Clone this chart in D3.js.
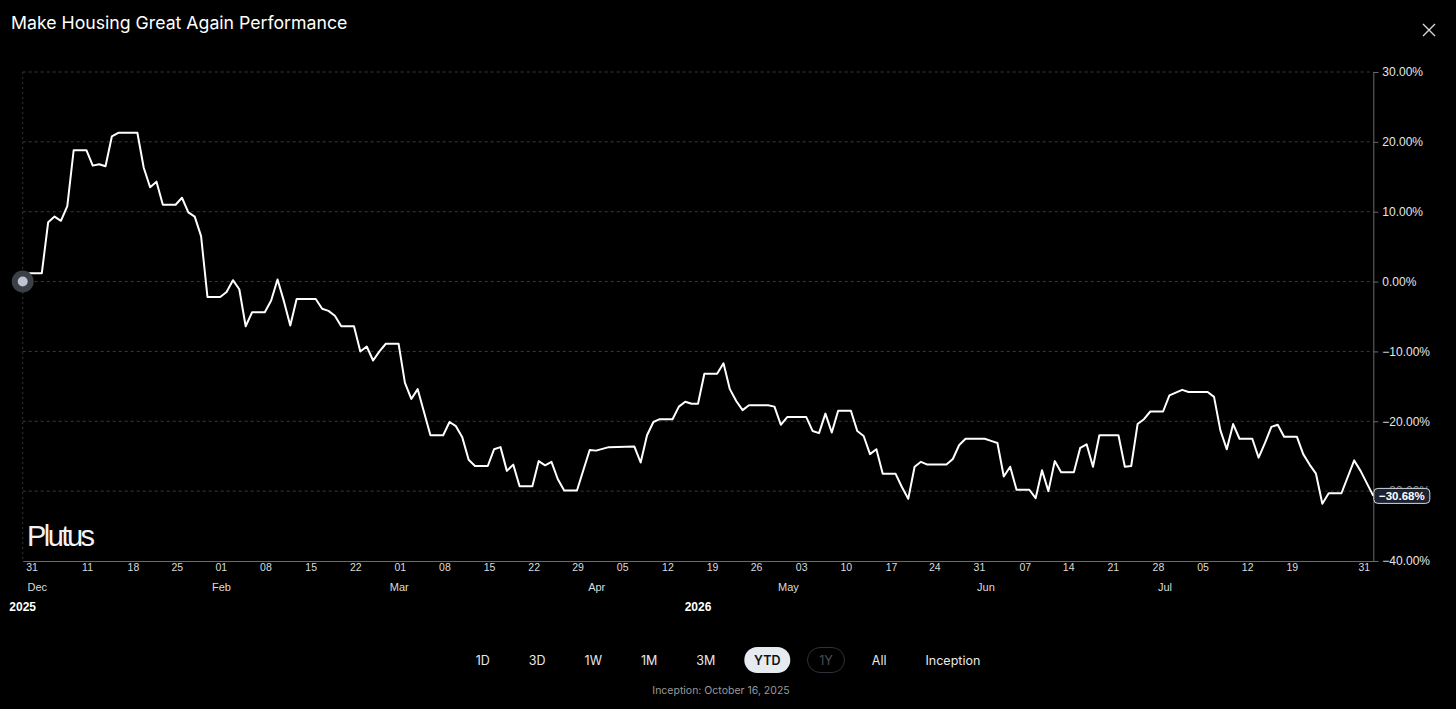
<!DOCTYPE html>
<meta charset="utf-8">

<!-- Load d3.js -->
<script src="https://d3js.org/d3.v7.min.js"></script>

<style>
  body { margin: 0; background: #000; overflow: hidden; }
  svg text { font-family: "Liberation Sans", Arial, sans-serif; }
  .ui { font-family: Inter, "Noto Sans", sans-serif !important; }
</style>

<div id="my_dataviz"></div>

<script>

// day offset from 31 Dec 2025 and cumulative performance (%) at each turning point of the line
var dayIdx = [0, 1, 3, 4, 5, 6, 7, 8, 10, 11, 12, 13, 14, 15, 18, 19, 20, 21, 22, 24,
              25, 26, 27, 28, 29, 31, 32, 33, 34, 35, 36, 38, 39, 40, 41, 42, 43, 46, 47, 48,
              49, 50, 52, 53, 54, 55, 56, 57, 59, 60, 61, 62, 64, 66, 67, 68, 69, 70, 71, 73,
              74, 75, 76, 77, 78, 80, 81, 82, 83, 84, 85, 87, 89, 90, 92, 96, 97, 98, 99, 100,
              102, 103, 104, 105, 106, 107, 109, 110, 111, 112, 113, 114, 117, 118, 119, 120, 123, 124, 125, 126,
              127, 128, 130, 131, 132, 133, 134, 135, 137, 138, 139, 140, 141, 142, 145, 146, 147, 148, 151, 152,
              153, 154, 155, 156, 158, 159, 160, 161, 162, 163, 165, 166, 167, 168, 169, 172, 173, 174, 175, 176,
              177, 179, 180, 181, 182, 183, 186, 187, 188, 189, 190, 191, 193, 194, 195, 196, 197, 198, 200, 201,
              202, 203, 204, 205, 207, 209, 210, 212];
var perf = [0, 1.2, 1.2, 8.5, 9.3, 8.7, 10.8, 18.8, 18.8, 16.6, 16.8, 16.5, 20.8, 21.3, 21.3, 16.3, 13.5, 14.3, 11.0, 11.0,
            12.0, 9.9, 9.3, 6.5, -2.2, -2.2, -1.5, 0.2, -1.1, -6.4, -4.4, -4.4, -2.7, 0.3, -2.8, -6.3, -2.5, -2.5, -3.9, -4.2,
            -4.9, -6.4, -6.4, -10.0, -9.3, -11.3, -10.0, -8.9, -8.9, -14.5, -16.8, -15.4, -22.0, -22.0, -20.1, -20.7, -22.3, -25.5, -26.4, -26.4,
            -24.0, -23.7, -27.1, -26.2, -29.3, -29.3, -25.7, -26.3, -25.8, -28.3, -29.9, -29.9, -24.1, -24.2, -23.7, -23.6, -25.9, -22.0, -20.1, -19.7,
            -19.7, -17.9, -17.2, -17.5, -17.5, -13.2, -13.2, -11.7, -15.4, -17.1, -18.4, -17.7, -17.7, -17.9, -20.5, -19.4, -19.4, -21.4, -21.7, -18.9,
            -21.6, -18.5, -18.5, -21.4, -22.1, -24.7, -24.0, -27.5, -27.5, -29.4, -31.1, -26.5, -25.8, -26.2, -26.2, -25.4, -23.4, -22.5, -22.5, -22.8,
            -23.1, -27.9, -26.5, -29.8, -29.8, -31.0, -27.0, -30.0, -25.7, -27.3, -27.3, -23.8, -23.3, -26.5, -22.0, -22.0, -26.5, -26.4, -20.4, -19.7,
            -18.6, -18.6, -16.3, -15.9, -15.5, -15.8, -15.8, -16.5, -21.3, -24.0, -20.4, -22.5, -22.5, -25.2, -23.1, -20.8, -20.5, -22.2, -22.2, -24.7,
            -26.2, -27.5, -31.8, -30.3, -30.3, -25.6, -27.1, -30.68];

// x axis labels (as printed on the chart)
var dayTicks  = [1.4, 10.1, 17.3, 24.2, 31.1, 38.1, 45.2, 52.2, 59.2, 66.2, 73.2, 80.2, 87.1, 94.1, 101.2,
                 108.2, 115.1, 122.2, 129.2, 136.3, 143.1, 150.1, 157.3, 164.1, 171.1, 178.2, 185.2, 192.2, 199.2, 210.5];
var dayLabels = ["31", "11", "18", "25", "01", "08", "15", "22", "01", "08", "15", "22", "29", "05", "12",
                 "19", "26", "03", "10", "17", "24", "31", "07", "14", "21", "28", "05", "12", "19", "31"];
var monthTicks  = [2.3, 31.2, 59.1, 90.1, 120.2, 151.2, 179.3];
var monthLabels = ["Dec", "Feb", "Mar", "Apr", "May", "Jun", "Jul"];
var yearTicks  = [0, 106];
var yearLabels = ["2025", "2026"];
var pctTicks = [30, 20, 10, 0, -10, -20, -30, -40];

var ranges = ["1D", "3D", "1W", "1M", "3M", "YTD", "1Y", "All", "Inception"];
var activeRange = "YTD";
var disabledRange = "1Y";

var W = 1456, H = 709;
var margin = {top: 72, right: 82.7, bottom: 148, left: 22.7};

var svg = d3.select("#my_dataviz")
  .append("svg")
    .attr("width", W)
    .attr("height", H)
    .style("background", "#000");

var x = d3.scaleLinear()
  .domain([0, 212])
  .range([margin.left, W - margin.right]);

var y = d3.scaleLinear()
  .domain([-40, 30])
  .range([H - margin.bottom, margin.top]);

// title + close
svg.append("text")
  .attr("class", "ui")
  .attr("x", 11).attr("y", 29)
  .style("font-size", "17.7px")
  .attr("fill", "#fff")
  .text("Make Housing Great Again Performance");

var cx = 1429, cy = 30;
svg.append("path")
  .attr("d", "M" + (cx - 6) + "," + (cy - 6) + "L" + (cx + 6) + "," + (cy + 6) +
             "M" + (cx + 6) + "," + (cy - 6) + "L" + (cx - 6) + "," + (cy + 6))
  .attr("stroke", "#d8d8d8")
  .attr("stroke-width", 1.4);

// gridlines
svg.append("g")
  .selectAll("line")
  .data(pctTicks.filter(function(d) { return d > -40; }))
  .join("line")
    .attr("x1", x(0)).attr("x2", x(212))
    .attr("y1", function(d) { return y(d); })
    .attr("y2", function(d) { return y(d); })
    .attr("stroke", "#3a3a3a")
    .attr("stroke-dasharray", "3,3");

// left dotted edge
svg.append("line")
  .attr("x1", x(0)).attr("x2", x(0))
  .attr("y1", y(30)).attr("y2", y(-40))
  .attr("stroke", "#333")
  .attr("stroke-dasharray", "2,3");

// right Y axis
var yAxis = svg.append("g")
  .attr("transform", "translate(" + x(212) + ",0)")
  .call(d3.axisRight(y)
    .tickValues(pctTicks)
    .tickSize(5)
    .tickPadding(4)
    .tickFormat(function(d) { return d3.format(".2f")(d) + "%"; }));
yAxis.select(".domain").attr("stroke", "#6a6a6a");
yAxis.selectAll(".tick line").attr("stroke", "#6a6a6a");
yAxis.selectAll(".tick text")
  .attr("fill", "#e6e6e6")
  .style("font-size", "12px");
// the -30% label sits under the last-value badge, as in the original
yAxis.selectAll(".tick text")
  .filter(function(d) { return d === -30; })
  .attr("fill", "#8a8a8a");

// bottom X axis
var xAxis = svg.append("g")
  .attr("transform", "translate(0," + y(-40) + ")")
  .call(d3.axisBottom(x)
    .tickValues(dayTicks)
    .tickSize(0)
    .tickPadding(3)
    .tickFormat(function(d, i) { return dayLabels[i]; }));
xAxis.select(".domain").attr("stroke", "#6a6a6a");
xAxis.selectAll(".tick text")
  .attr("fill", "#dcdcdc")
  .style("font-size", "10.5px");

svg.append("g")
  .selectAll("text")
  .data(monthTicks)
  .join("text")
    .attr("x", function(d) { return x(d); })
    .attr("y", 591)
    .attr("text-anchor", "middle")
    .attr("fill", "#dcdcdc")
    .style("font-size", "11px")
    .text(function(d, i) { return monthLabels[i]; });

svg.append("g")
  .selectAll("text")
  .data(yearTicks)
  .join("text")
    .attr("x", function(d) { return x(d); })
    .attr("y", 611)
    .attr("text-anchor", "middle")
    .attr("fill", "#fff")
    .style("font-size", "12px")
    .style("font-weight", "bold")
    .text(function(d, i) { return yearLabels[i]; });

// watermark
svg.append("text")
  .attr("x", 27).attr("y", 546)
  .attr("fill", "#f2f2f2")
  .style("font-size", "29px")
  .style("letter-spacing", "-2.5px")
  .text("Plutus");

// performance line
var pts = d3.zip(dayIdx, perf);
svg.append("path")
  .datum(pts)
  .attr("fill", "none")
  .attr("stroke", "#fff")
  .attr("stroke-width", 2)
  .attr("stroke-linejoin", "round")
  .attr("d", d3.line()
    .x(function(d) { return x(d[0]); })
    .y(function(d) { return y(d[1]); }));

// start marker
svg.append("circle")
  .attr("cx", x(dayIdx[0])).attr("cy", y(perf[0]))
  .attr("r", 11)
  .attr("fill", "#3b3f46");
svg.append("circle")
  .attr("cx", x(dayIdx[0])).attr("cy", y(perf[0]))
  .attr("r", 5)
  .attr("fill", "#bcc4d2");

// last value badge
var last = perf[perf.length - 1];
var badge = svg.append("g")
  .attr("transform", "translate(" + x(dayIdx[dayIdx.length - 1]) + "," + y(last) + ")");
badge.append("rect")
  .attr("x", 0.5).attr("y", -7.5)
  .attr("width", 56).attr("height", 15)
  .attr("rx", 4)
  .attr("fill", "#1b2232")
  .attr("stroke", "#d4d8de")
  .attr("stroke-width", 1);
badge.append("text")
  .attr("x", 28.5).attr("y", 4)
  .attr("text-anchor", "middle")
  .attr("fill", "#fff")
  .style("font-size", "11.5px")
  .style("font-weight", "bold")
  .text(d3.format(".2f")(last) + "%");

// range buttons
var btns = svg.append("g").attr("class", "ui");
var gap = 17, pad = 11, widths = [];
var tmp = btns.selectAll("text.m")
  .data(ranges)
  .join("text")
    .attr("class", "ui m")
    .style("font-size", "12.5px")
    .text(function(d) { return d; });
tmp.each(function() { widths.push(this.getComputedTextLength() + 2 * pad); });
tmp.remove();
var total = d3.sum(widths) + gap * (ranges.length - 1);
var cur = 728 - total / 2;
ranges.forEach(function(r, i) {
  var w = widths[i], mid = cur + w / 2;
  if (r === activeRange) {
    btns.append("rect")
      .attr("x", mid - 23).attr("y", 647)
      .attr("width", 46).attr("height", 26).attr("rx", 13)
      .attr("fill", "#e6ebf1");
  }
  if (r === disabledRange) {
    btns.append("rect")
      .attr("x", mid - 18.5).attr("y", 647.5)
      .attr("width", 37).attr("height", 25).attr("rx", 12.5)
      .attr("fill", "none")
      .attr("stroke", "#2e3238");
  }
  btns.append("text")
    .attr("class", "ui")
    .attr("x", mid).attr("y", 665)
    .attr("text-anchor", "middle")
    .style("font-size", "12.5px")
    .style("font-weight", r === activeRange ? "600" : "400")
    .attr("fill", r === activeRange ? "#111" : (r === disabledRange ? "#4a4e55" : "#e8e8e8"))
    .text(r);
  cur += w + gap;
});

svg.append("text")
  .attr("class", "ui")
  .attr("x", 721).attr("y", 694)
  .attr("text-anchor", "middle")
  .attr("fill", "#9a9a9a")
  .style("font-size", "10.5px")
  .text("Inception: October 16, 2025");

</script>
